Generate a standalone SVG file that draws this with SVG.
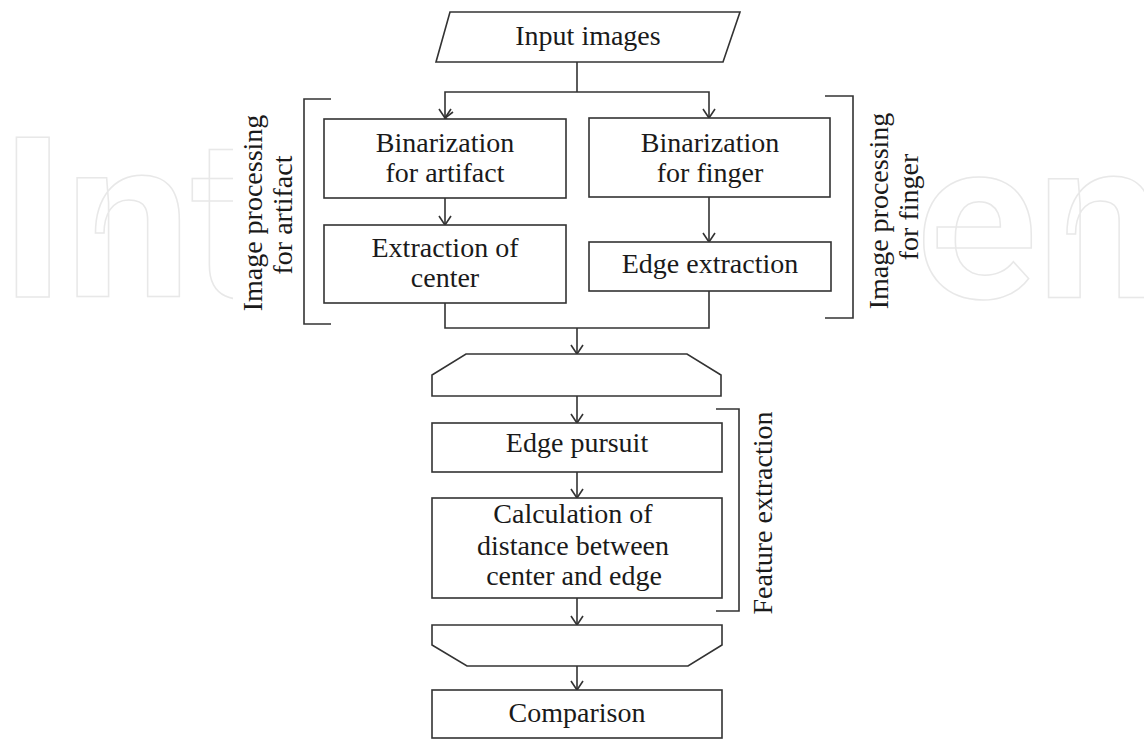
<svg xmlns="http://www.w3.org/2000/svg" width="1144" height="740" viewBox="0 0 1144 740">
<style>
.wm{font-family:Roboto,"Liberation Sans",sans-serif;font-size:224px;font-weight:700;fill:none;stroke:#e8e8e8;stroke-width:1.5}
.box{fill:#fff;stroke:#333;stroke-width:1.6}
.t{font-family:"Liberation Serif","DejaVu Serif",serif;font-size:28px;fill:#1a1a1a;text-anchor:middle}
.c{fill:none;stroke:#333;stroke-width:1.6}
</style>
<defs>
<marker id="ah" markerUnits="userSpaceOnUse" markerWidth="16" markerHeight="12" refX="7" refY="9" orient="auto-start-reverse" viewBox="0 0 14 12">
<path d="M1,1 L7,9 L13,1" fill="none" stroke="#333" stroke-width="1.6"/>
</marker>
<clipPath id="wl"><rect x="0" y="0" width="233" height="740"/></clipPath>
</defs>
<rect width="1144" height="740" fill="#fff"/>
<g id="watermark">
<text class="wm" x="0" y="297" clip-path="url(#wl)">Int</text>
<text class="wm" x="916" y="298">en</text>
</g>
<g id="connectors">
<line class="c" x1="577" y1="62" x2="577" y2="92"/>
<polyline class="c" points="577,92 445,92 445,118" marker-end="url(#ah)" transform="rotate(0)"/>
<polyline class="c" points="577,92 709,92 709,118"/>
<line class="c" x1="445" y1="198" x2="445" y2="225"/>
<line class="c" x1="709" y1="197" x2="709" y2="242"/>
<polyline class="c" points="445,303 445,328 709,328 709,291"/>
<line class="c" x1="577" y1="328" x2="577" y2="354"/>
<line class="c" x1="577" y1="396" x2="577" y2="423"/>
<line class="c" x1="577" y1="472" x2="577" y2="498"/>
<line class="c" x1="577" y1="598" x2="577" y2="625"/>
<line class="c" x1="577" y1="666" x2="577" y2="690"/>
<g fill="none" stroke="#333" stroke-width="1.6">
<path d="M439,109 L445,118 L451,109"/>
<path d="M703,109 L709,118 L715,109"/>
<path d="M439,216 L445,225 L451,216"/>
<path d="M703,233 L709,242 L715,233"/>
<path d="M571,345 L577,354 L583,345"/>
<path d="M571,414 L577,423 L583,414"/>
<path d="M571,489 L577,498 L583,489"/>
<path d="M571,616 L577,625 L583,616"/>
<path d="M571,681 L577,690 L583,681"/>
</g>
</g>
<g id="input">
<polygon class="box" points="450,12 740,12 723,62 436,62"/>
<text class="t" x="588" y="45">Input images</text>
</g>
<g id="bin-artifact">
<rect class="box" x="324" y="119" width="242" height="79"/>
<text class="t" x="445" y="152">Binarization</text>
<text class="t" x="445" y="182">for artifact</text>
</g>
<g id="extract-center">
<rect class="box" x="324" y="225" width="242" height="78"/>
<text class="t" x="445" y="257">Extraction of</text>
<text class="t" x="445" y="287">center</text>
</g>
<g id="bin-finger">
<rect class="box" x="589" y="118" width="241" height="79"/>
<text class="t" x="710" y="152">Binarization</text>
<text class="t" x="710" y="182">for finger</text>
</g>
<g id="edge-extract">
<rect class="box" x="589" y="242" width="242" height="49"/>
<text class="t" x="710" y="273">Edge extraction</text>
</g>
<g id="bracket-artifact">
<polyline class="c" points="331,99 304,99 304,324 331,324"/>
<text class="t" transform="translate(262,213) rotate(-90)">Image processing</text>
<text class="t" transform="translate(292,215) rotate(-90)">for artifact</text>
</g>
<g id="bracket-finger">
<polyline class="c" points="825,96 853,96 853,318 825,318"/>
<text class="t" transform="translate(888,211) rotate(-90)">Image processing</text>
<text class="t" transform="translate(918,207) rotate(-90)">for finger</text>
</g>
<g id="loop-start">
<polygon class="box" points="466,354 687,354 721,375 721,396 432,396 432,375"/>
</g>
<g id="edge-pursuit">
<rect class="box" x="432" y="423" width="290" height="49"/>
<text class="t" x="577" y="452">Edge pursuit</text>
</g>
<g id="calc-distance">
<rect class="box" x="432" y="498" width="290" height="100"/>
<text class="t" x="573" y="523">Calculation of</text>
<text class="t" x="573" y="555">distance between</text>
<text class="t" x="574" y="585">center and edge</text>
</g>
<g id="bracket-feature">
<polyline class="c" points="716,409 739,409 739,611 716,611"/>
<text class="t" transform="translate(772,513) rotate(-90)">Feature extraction</text>
</g>
<g id="loop-end">
<polygon class="box" points="432,625 722,625 722,645 688,666 467,666 432,645"/>
</g>
<g id="comparison">
<rect class="box" x="432" y="690" width="290" height="48"/>
<text class="t" x="577" y="722">Comparison</text>
</g>
</svg>
